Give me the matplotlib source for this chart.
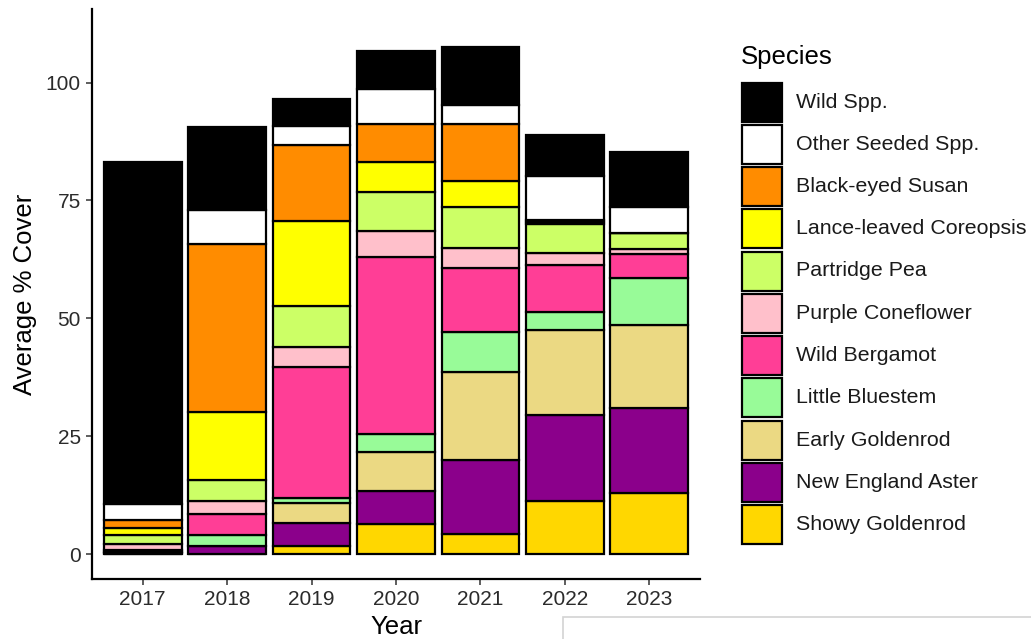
import matplotlib
matplotlib.use("Agg")
import matplotlib.pyplot as plt
from matplotlib.patches import Rectangle
import numpy as np

plt.rcParams['font.family'] = ['Liberation Sans', 'DejaVu Sans']

years = ["2017", "2018", "2019", "2020", "2021", "2022", "2023"]

# Average % cover per species, bottom of the stack first
showy_goldenrod = [0.1, 0.0, 1.8, 6.3, 4.2, 11.2, 13.0]
new_england_aster = [0.2, 1.6, 4.8, 7.0, 15.7, 18.2, 18.0]
early_goldenrod = [0.1, 0.0, 4.2, 8.4, 18.7, 18.1, 17.5]
little_bluestem = [0.1, 2.4, 1.0, 3.7, 8.5, 3.8, 10.0]
wild_bergamot = [0.3, 4.5, 27.8, 37.6, 13.6, 10.1, 5.2]
purple_coneflower = [1.3, 2.8, 4.4, 5.6, 4.3, 2.5, 0.9]
partridge_pea = [1.9, 4.5, 8.6, 8.1, 8.6, 6.1, 3.5]
lance_leaved_coreopsis = [1.6, 14.3, 18.0, 6.4, 5.6, 0.4, 0.0]
black_eyed_susan = [1.7, 35.6, 16.2, 8.2, 12.1, 0.5, 0.0]
other_seeded = [3.4, 7.3, 4.0, 7.3, 4.0, 9.2, 5.6]
wild_spp = [72.4, 17.6, 5.7, 8.0, 12.3, 8.8, 11.5]

species = ["Showy Goldenrod", "New England Aster", "Early Goldenrod",
           "Little Bluestem", "Wild Bergamot", "Purple Coneflower",
           "Partridge Pea", "Lance-leaved Coreopsis", "Black-eyed Susan",
           "Other Seeded Spp.", "Wild Spp."]
series = [showy_goldenrod, new_england_aster, early_goldenrod, little_bluestem,
          wild_bergamot, purple_coneflower, partridge_pea,
          lance_leaved_coreopsis, black_eyed_susan, other_seeded, wild_spp]
colors = ["#FFD700", "#8B008B", "#EBD983", "#98FB98", "#FF3E96", "#FFC0CB",
          "#CCFF66", "#FFFF00", "#FF8C00", "#FFFFFF", "#000000"]

W, H = 1031, 639
fig = plt.figure(figsize=(W / 100, H / 100), dpi=100)
ax = fig.add_axes([92 / W, 1 - 579 / H, (700 - 92) / W, (579 - 9) / H])

x = np.arange(1, len(years) + 1)
bottom = np.zeros(len(years))
for vals, col in zip(series, colors):
    vals = np.array(vals)
    ax.bar(x, vals, width=0.92, bottom=bottom, color=col,
           edgecolor="black", linewidth=1.6)
    bottom += vals

ax.set_xlim(0.4, 7.6)
ax.set_ylim(-5.3, 115.6)
ax.set_xticks(x)
ax.set_xticklabels(years)
ax.set_yticks([0, 25, 50, 75, 100])
ax.tick_params(axis="both", labelsize=15, length=4, width=1.1,
               colors="#333333", labelcolor="#2b2b2b", pad=4)
for side in ["top", "right"]:
    ax.spines[side].set_visible(False)
for side in ["left", "bottom"]:
    ax.spines[side].set_linewidth(1.6)
    ax.spines[side].set_color("black")

fig.text(396 / W, 1 - 627 / H, "Year", fontsize=18.5, ha="center", va="center")
fig.text(25 / W, 1 - 294 / H, "Average % Cover", fontsize=18.5,
         rotation=90, ha="center", va="center")

# Legend drawn by hand: title, keys and labels, top entry first
fig.text(741 / W, 1 - 57 / H, "Species", fontsize=18.5, ha="left", va="center")
for i, (name, col) in enumerate(zip(species[::-1], colors[::-1])):
    cy = 102 + 42.25 * i
    fig.add_artist(Rectangle((741.5 / W, 1 - (cy + 19.5) / H), 40 / W, 39 / H,
                             transform=fig.transFigure, facecolor=col,
                             edgecolor="black", linewidth=1.6))
    fig.text(796 / W, 1 - cy / H, name, fontsize=15.4, ha="left", va="center",
             color="#1a1a1a")

# Light grey frame along the lower edge
fig.add_artist(Rectangle((563 / W, -0.05), 0.6, (639 - 617) / H + 0.05,
                         transform=fig.transFigure, facecolor="none",
                         edgecolor="#d3d3d3", linewidth=1.2))

fig.savefig("out.png", dpi=100)
